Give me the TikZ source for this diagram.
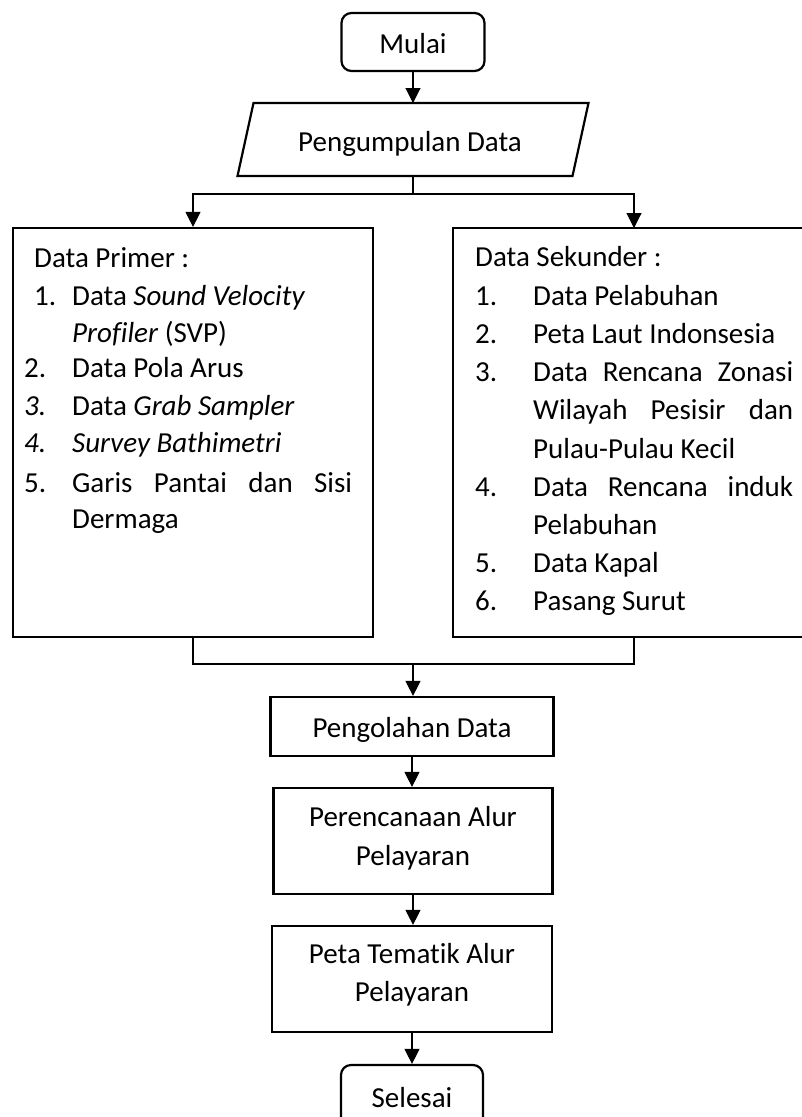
\documentclass[tikz,border=0pt]{standalone}
\usepackage{fontspec}
\setmainfont[Ligatures={NoCommon}]{Carlito}
\usetikzlibrary{arrows.meta,calc}
\begin{document}
\begin{tikzpicture}[x=1pt,y=-1pt,
  boxst/.style={draw,line width=2.2pt,inner sep=0pt},
  roundbox/.style={boxst,rounded corners=10pt},
  ghost/.style={inner sep=0pt,outer sep=0pt},
  conn/.style={line width=1.1pt},
  arr/.style={conn,-{Triangle[length=15pt,width=15pt]}},
  txt/.style={anchor=base,inner sep=0pt,font=\fontsize{29}{35}\selectfont},
  ltxt/.style={txt,anchor=base west}]
\useasboundingbox (0,0) rectangle (802,1117);
% nodes
\node[roundbox,minimum width=143pt,minimum height=58pt] (mulai) at (413,42) {};
\node[txt] (tmulai) at (413,53) {Mulai};
\node[ghost,minimum width=351pt,minimum height=73pt] (pd) at (413,139.5) {};
\draw[line width=2.2pt] ($(pd.north west)+(16,0)$) -- (pd.north east) -- ($(pd.south east)+(-16,0)$) -- (pd.south west) -- cycle;
\node[txt] (tpd) at (410,151.5) {Pengumpulan Data};
\node[boxst,minimum width=360pt,minimum height=409pt] (primer) at (193,432.5) {};
\node[boxst,minimum width=360pt,minimum height=409pt] (sekunder) at (633,432.5) {};
\node[boxst,minimum width=283pt,minimum height=59pt] (olah) at (412,726.5) {};
\node[txt] (tolah) at (412,737) {Pengolahan Data};
\node[boxst,minimum width=279pt,minimum height=106pt] (rencana) at (413,841) {};
\node[txt] (trenc1) at (413,826.5) {Perencanaan Alur};
\node[txt] (trenc2) at (413,865) {Pelayaran};
\node[boxst,minimum width=280pt,minimum height=106pt] (peta) at (412,979) {};
\node[txt] (tpeta1) at (412,963.5) {Peta Tematik Alur};
\node[txt] (tpeta2) at (412,1001.5) {Pelayaran};
\node[roundbox,minimum width=142pt,minimum height=62pt] (selesai) at (412,1096) {};
\node[txt] (tsel) at (412,1107) {Selesai};
% left list
\node[ltxt] (p0) at (34,267) {Data Primer :};
\node[ltxt] (p1n) at (34,305) {1.};
\node[ltxt] (p1) at (72,305) {Data \textit{Sound Velocity}};
\node[ltxt] (p1b) at (72,342) {\textit{Profiler} (SVP)};
\node[ltxt] (p2n) at (24,377) {2.};
\node[ltxt] (p2) at (72,377) {Data Pola Arus};
\node[ltxt] (p3n) at (24,415) {\textit{3.}};
\node[ltxt] (p3) at (72,415) {Data \textit{Grab Sampler}};
\node[ltxt] (p4n) at (24,452) {\textit{4.}};
\node[ltxt] (p4) at (72,452) {\textit{Survey Bathimetri}};
\node[ltxt] (p5n) at (24,492) {5.};
\node[ltxt] (p5) at (72,492) {\hbox to 280pt{Garis\hfill Pantai\hfill dan\hfill Sisi}};
\node[ltxt] (p5b) at (72,528) {Dermaga};
% right list
\node[ltxt] (s0) at (475,266) {Data Sekunder :};
\node[ltxt] (s1n) at (475,305) {1.};
\node[ltxt] (s1) at (533,305) {Data Pelabuhan};
\node[ltxt] (s2n) at (475,343) {2.};
\node[ltxt] (s2) at (533,343) {Peta Laut Indonsesia};
\node[ltxt] (s3n) at (475,381) {3.};
\node[ltxt] (s3) at (533,381) {\hbox to 260pt{Data\hfill Rencana\hfill Zonasi}};
\node[ltxt] (s3b) at (533,419) {\hbox to 260pt{Wilayah\hfill Pesisir\hfill dan}};
\node[ltxt] (s3c) at (533,458) {Pulau-Pulau Kecil};
\node[ltxt] (s4n) at (475,496) {4.};
\node[ltxt] (s4) at (533,496) {\hbox to 260pt{Data\hfill Rencana\hfill induk}};
\node[ltxt] (s4b) at (533,534) {Pelabuhan};
\node[ltxt] (s5n) at (475,572) {5.};
\node[ltxt] (s5) at (533,572) {Data Kapal};
\node[ltxt] (s6n) at (475,610) {6.};
\node[ltxt] (s6) at (533,610) {Pasang Surut};
% connectors
\coordinate (split) at (413,194);
\coordinate (sekin) at (634,228);
\coordinate (sekout) at (634,637);
\coordinate (join) at (413,664);
\draw[arr] (mulai.south -| pd.north) -- (pd.north);
\draw[conn] (pd.south) -- (split);
\draw[arr] (split) -| (primer.north);
\draw[arr] (split) -| (sekin);
\draw[conn] (primer.south) |- (join);
\draw[conn] (sekout) |- (join);
\draw[arr] (join) -- (join |- olah.north);
\draw[arr] (olah.south) -- (olah.south |- rencana.north);
\draw[arr] (rencana.south) -- (rencana.south |- peta.north);
\draw[arr] (peta.south) -- (peta.south |- selesai.north);
\end{tikzpicture}
\end{document}
